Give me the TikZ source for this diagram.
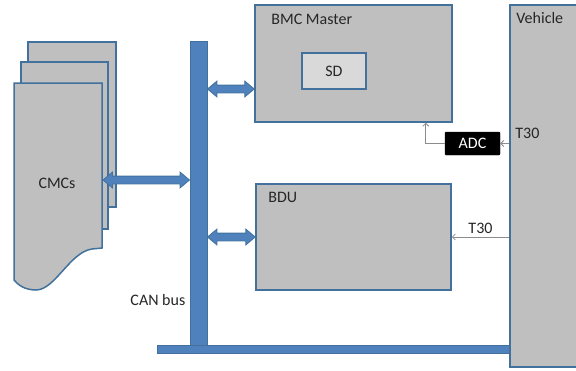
\documentclass[tikz,border=0pt]{standalone}
\usepackage{fontspec}
\setmainfont{Carlito}
\usetikzlibrary{shapes.arrows,arrows.meta,calc}

\definecolor{boxgray}{RGB}{191,191,191}
\definecolor{sdgray}{RGB}{217,217,217}
\definecolor{edgeblue}{RGB}{65,113,156}
\definecolor{busblue}{RGB}{79,129,189}
\definecolor{wiregray}{RGB}{140,140,140}

\begin{document}
\begin{tikzpicture}[x=1pt,y=-1pt,
  box/.style={draw=edgeblue, fill=boxgray, line width=1.5pt, inner sep=0pt},
  bus/.style={draw=edgeblue, fill=busblue, line width=1pt, inner sep=0pt},
  busarrow/.style={double arrow, draw=edgeblue, fill=busblue, line width=0.8pt,
    inner sep=3.5pt, double arrow head extend=4pt, double arrow tip angle=80},
  wire/.style={draw=wiregray, line width=0.8pt, -{Straight Barb[length=3pt,width=6pt]}},
  lbl/.style={font=\fontsize{16pt}{18pt}\selectfont, text=black!85, inner sep=0pt}]
\clip (0,0) rectangle (576,370);

% CMC stack
\draw[box] (28,42) rectangle (116,207);
\draw[box] (21,62) rectangle (108,229);
\draw[box] (14,83) -- (102,83) -- (102,248) -- (92,249)
  .. controls (70,252) and (55,290) .. (36,290)
  .. controls (25,290) and (18,285) .. (14,280) -- cycle;
\node[lbl] (cmcs) at (57,183) {CMCs};
\coordinate (cmcport) at (103,180);

% CAN bus
\node[bus, minimum width=17pt, minimum height=304pt] (bus) at (198.5,193) {};
\node[bus, minimum width=353pt, minimum height=8pt] (busbase) at (333.5,349) {};
\node[lbl, anchor=east] (canlbl) at ($(bus.west|-0,300)+(-4,0)$) {CAN bus};

% units
\node[box, minimum width=197pt, minimum height=117pt] (master) at (353.5,63.5) {};
\node[lbl, anchor=north west] at ($(master.north west)+(17,10)$) {BMC Master};
\node[box, lbl, fill=sdgray, minimum width=64pt, minimum height=36pt] (sd) at (334,71) {SD};
\node[box, minimum width=195pt, minimum height=106pt] (bdu) at (353.5,237) {};
\node[lbl, anchor=north west] at ($(bdu.north west)+(13,9)$) {BDU};
\node[box, minimum width=68pt, minimum height=362pt] (vehicle) at (544,186) {};
\node[lbl, anchor=north west] at ($(vehicle.north west)+(7,8)$) {Vehicle};
\node[fill=black, draw=black, rounded corners=1pt, minimum width=55pt, minimum height=23pt,
  text=white, font=\fontsize{16pt}{18pt}\selectfont] (adc) at (472.5,143.5) {ADC};

% bus links
\path let \p1=($(bus.west|-cmcport)-(cmcport)$) in
  node[busarrow, minimum height=\x1] at ($(cmcport)!.5!(bus.west|-cmcport)$) {};
\coordinate (mport) at (master.west|-0,89);
\path let \p1=($(mport)-(bus.east|-mport)$) in
  node[busarrow, minimum height=\x1] at ($(bus.east|-mport)!.5!(mport)$) {};
\path let \p1=($(bdu.west)-(bus.east|-bdu.west)$) in
  node[busarrow, minimum height=\x1] at ($(bus.east|-bdu.west)!.5!(bdu.west)$) {};

% T30 wires
\draw[wire] (vehicle.west|-adc) -- (adc.east);
\node[lbl, anchor=west] at ($(vehicle.west|-adc)+(6,-10.5)$) {T30};
\draw[wire] (adc.west) -| ($(master.south east)+(-27,0)$);
\draw[wire] (vehicle.west|-bdu) -- node[lbl, above=3pt] {T30} (bdu.east);
\end{tikzpicture}
\end{document}
